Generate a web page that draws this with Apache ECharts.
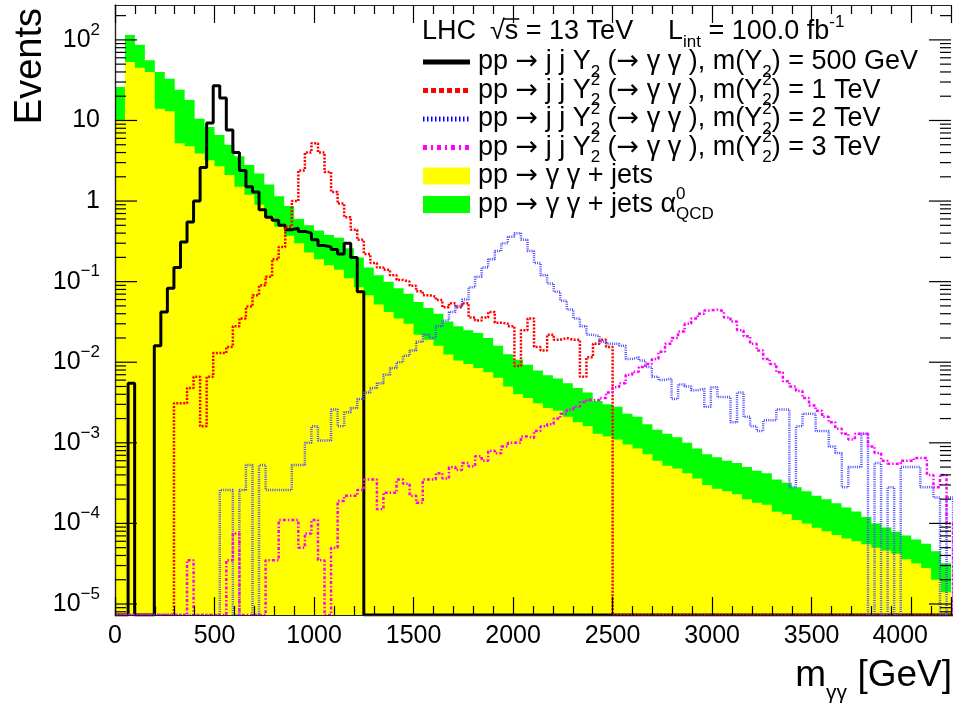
<!DOCTYPE html>
<html><head><meta charset="utf-8">
<script src="https://cdn.jsdelivr.net/npm/echarts@6/dist/echarts.min.js"></script>
<style>html,body{margin:0;padding:0;background:#fff}#c{width:956px;height:705px}</style>
</head><body><div id="c"></div>
<script>
// ---------------- data ----------------
const X_MIN = 0, X_MAX = 4200;
const Y_MIN = 7.3e-6, Y_MAX = 271;
const BG_BIN = 50;            // GeV, background histograms
const SIG_BIN = 1250 / 38;    // GeV, signal histograms
const xTickStep = 500;
const yDecades = [-5, -4, -3, -2, -1, 0, 1, 2];
const minorMultipliers = [2, 3, 4, 5, 6, 7, 8, 9];

// pp -> yy + jets alpha_QCD^0 (green)
const bkgJetsAlpha0 = [26,115,87,56,40,33,24,18,10.5,8.3,6.6,5.0,3.6,2.8,2.2,1.6,1.15,0.87,0.60,0.50,
0.43,0.38,0.35,0.26,0.20,0.15,0.12,0.10,0.083,0.071,0.056,0.047,0.040,0.032,0.028,0.025,0.023,0.020,0.016,0.0126,
0.0107,0.0093,0.0079,0.0069,0.0063,0.0055,0.0048,0.0042,0.0033,0.0030,0.0028,0.0023,0.0021,0.0017,0.00145,0.0013,0.00117,0.0010,0.00085,0.00072,
0.00066,0.00060,0.00056,0.00050,0.00045,0.00042,0.00035,0.00032,0.00028,0.00025,0.00022,0.00020,0.000178,0.000158,0.000141,0.00012,0.0001,0.000089,0.000079,0.000071,
0.000063,0.000056,0.000045,0.000032];
// pp -> yy + jets (yellow)
const bkgJets = [10,53,45,40,14,13,5.2,4.8,3.9,3.2,2.7,2.1,1.5,1.2,0.9,0.65,0.48,0.37,0.30,0.23,
0.19,0.16,0.14,0.11,0.085,0.068,0.052,0.042,0.035,0.030,0.022,0.019,0.016,0.0125,0.0105,0.0095,0.0085,0.0075,0.0064,0.0050,
0.0040,0.0036,0.0031,0.0027,0.0025,0.0021,0.0018,0.0016,0.0013,0.0012,0.0011,0.00095,0.00085,0.00072,0.0006,0.00052,0.00048,0.00042,0.00036,0.00030,
0.00027,0.00025,0.00023,0.00020,0.00018,0.00017,0.00014,0.00013,0.00011,0.0001,0.000088,0.00008,0.000072,0.000065,0.00006,0.000055,0.00005,0.000046,0.000042,0.000036,
0.000032,0.000028,0.000020,0.000014];
// signals, m(Y) = 500 GeV, 1, 2, 3 TeV (bins of SIG_BIN from 0; missing bins are empty)
const sig500 = [0,0,0.0055,0,0,0,0.016,0.042,0.083,0.15,0.31,0.55,1.0,2.6,9.3,27,19,7.6,4.0,2.4,
1.5,1.3,0.78,0.63,0.58,0.50,0.44,0.46,0.42,0.40,0.33,0.28,0.27,0.25,0.22,0.30,0.20,0.075];
const sig1000 = [0,0,0,0,0,0,0,0,0,0.0031,0.0031,0.0048,0.0066,0.0016,0.0066,0.013,0.013,0.0155,0.028,0.035,
0.049,0.068,0.09,0.115,0.19,0.27,0.48,1.0,2.4,4.0,5.2,4.0,2.3,1.3,0.93,0.63,0.44,0.33,0.22,0.17,
0.15,0.14,0.12,0.105,0.10,0.089,0.076,0.068,0.065,0.059,0.048,0.054,0.048,0.054,0.036,0.033,0.036,0.042,0.031,0.030,
0.028,0.009,0.025,0.035,0.0155,0.014,0.022,0.019,0.020,0.019,0.019,0.0066,0.0115,0.017,0.019,0.0155];
const sig2000 = [0,0,0,0,0,0,0,0,0,0,0,0,0,0,0,0,2.6e-4,2.6e-4,0,2.6e-4,
5.3e-4,0,5.3e-4,2.6e-4,2.6e-4,2.6e-4,2.6e-4,5.3e-4,5.3e-4,1.0e-3,1.6e-3,1.07e-3,1.07e-3,2.6e-3,1.6e-3,2.4e-3,2.7e-3,3.5e-3,4.2e-3,4.8e-3,
5.5e-3,7e-3,8.5e-3,0.010,0.012,0.014,0.018,0.022,0.020,0.028,0.033,0.042,0.050,0.060,0.085,0.115,0.15,0.19,0.24,0.30,
0.36,0.40,0.33,0.24,0.17,0.12,0.095,0.075,0.058,0.045,0.035,0.028,0.022,0.021,0.018,0.017,0.017,0.016,0.011,0.0115,
0.0105,0.0087,0.0066,0.006,0.0063,0.0035,0.0053,0.0050,0.0045,0.0047,0.0028,0.0049,0.0037,0.0037,0.0018,0.0042,0.0021,0.0016,0.0014,0.0019,
0.0019,0.0026,0.0026,0.00028,0.0016,0.0023,0.0023,0.0014,0.0014,0.0009,0.00075,0.00028,0.0005,0.0005,0.0013,0,0.00056,0,0.00028,0,
0.0005,0.0005,0.0005,0.00028,0.00028,0.00021,0,0.00021];
const sig3000 = [0,0,0,0,0,0,0,0,0,0,0,3.5e-5,0,0,0,0,0,3.5e-5,7.5e-5,0,
0,0,0,3.5e-5,3.5e-5,1.1e-4,1.1e-4,1.1e-4,5e-5,7.5e-5,1.1e-4,3.5e-5,0,5e-5,1.9e-4,2.2e-4,2.2e-4,2.6e-4,3.5e-4,3.5e-4,
1.5e-4,2.4e-4,2.4e-4,3.5e-4,3.1e-4,2.2e-4,1.8e-4,3.5e-4,3.5e-4,4.2e-4,3.6e-4,5.0e-4,4.6e-4,5.6e-4,5.1e-4,6.8e-4,6.0e-4,8.0e-4,7.4e-4,9.0e-4,
1.0e-3,1.0e-3,1.2e-3,1.15e-3,1.4e-3,1.6e-3,1.7e-3,2.0e-3,2.3e-3,2.6e-3,2.8e-3,3.2e-3,3.4e-3,3.4e-3,3.6e-3,4.2e-3,4.9e-3,5.5e-3,7.0e-3,7.6e-3,
8.7e-3,9.5e-3,0.011,0.0135,0.017,0.020,0.024,0.030,0.035,0.040,0.044,0.045,0.043,0.036,0.032,0.025,0.021,0.017,0.014,0.011,
0.0095,0.0075,0.0058,0.005,0.0044,0.0036,0.0029,0.0025,0.0021,0.0018,0.0015,0.0013,0.0011,0.0013,0.0013,0.0009,0.00075,0.0006,0.00055,0.00055,
0.0006,0.0006,0.00065,0.00065,0.0004,0.00028,0.0004,0.0001];

// ---------------- helpers ----------------
const FONT = '"Liberation Sans", Arial, Helvetica, sans-serif';
const ARROW_FONT = '"DejaVu Sans", sans-serif';
function bkgSteps(vals, w) {
  const p = vals.map((v, i) => [i * w, v]);
  p.push([vals.length * w, vals[vals.length - 1]]);
  return p;
}
function sigSteps(vals, w) {
  const p = vals.map((v, i) => [i * w, v > 0 ? v : Y_MIN]);
  p.push([vals.length * w, Y_MIN]);
  p.push([X_MAX + w, Y_MIN]);
  return p;
}
const yTickData = [];
yDecades.forEach(d => yTickData.push([X_MIN, Math.pow(10, d), 22]));
for (let d = -6; d <= 2; d++) minorMultipliers.forEach(m => {
  const v = m * Math.pow(10, d);
  if (v > Y_MIN && v < Y_MAX) yTickData.push([X_MIN, v, 11]);
});

const cv = document.createElement('canvas').getContext('2d');
function tw(s, size, fam) { cv.font = size + 'px ' + (fam || FONT); return cv.measureText(s).width; }
function txt(x, y, s, size, fam) {
  return { type: 'text', x: x, y: y, z: 100,
    style: { text: s, fill: '#000', font: size + 'px ' + (fam || FONT), align: 'left', verticalAlign: 'middle' } };
}
const LF = 27, SF = 17;
function row(x, y, pieces) {
  const out = []; let cx = x;
  pieces.forEach(p => {
    if (typeof p === 'string') {
      p.split(/(→)/).forEach(part => {
        if (!part) return;
        if (part === '→') { out.push(txt(cx, y, part, LF, ARROW_FONT)); cx += tw(part, LF, ARROW_FONT); }
        else { out.push(txt(cx, y, part, LF)); cx += tw(part, LF); }
      });
    } else {
      let w = 0;
      if (p.sup) { out.push(txt(cx, y - 10, p.sup, SF)); w = Math.max(w, tw(p.sup, SF)); }
      if (p.sub) { out.push(txt(cx, y + 10, p.sub, SF)); w = Math.max(w, tw(p.sub, SF)); }
      cx += w;
    }
  });
  return out;
}
const rowY = [32, 62, 90.5, 119, 147.5, 176, 204.5];
const TX = 478, SX0 = 423, SX1 = 470;
const legendEls = [];
legendEls.push(...row(422, rowY[0], ['LHC']));
const SQX = 490;
legendEls.push(...row(SQX, rowY[0], ['√s = 13 TeV']));
legendEls.push({ type: 'line', z: 100,
  shape: { x1: SQX + tw('√', LF) - 1, y1: 19, x2: SQX + tw('√s', LF) + 1, y2: 19 }, style: { stroke: '#000', lineWidth: 1.5 } });
legendEls.push(...row(668, rowY[0], ['L', {sub: 'int'}, ' = 100.0 fb', {sup: '-1'}]));
legendEls.push(...row(TX, rowY[1], ['pp → j j Y', {sub: '2'}, ' (→ γ γ ), m(Y', {sub: '2'}, ') = 500 GeV']));
legendEls.push(...row(TX, rowY[2], ['pp → j j Y', {sup: '2', sub: '2'}, ' (→ γ γ ), m(Y', {sup: '2', sub: '2'}, ') = 1 TeV']));
legendEls.push(...row(TX, rowY[3], ['pp → j j Y', {sup: '2', sub: '2'}, ' (→ γ γ ), m(Y', {sup: '2', sub: '2'}, ') = 2 TeV']));
legendEls.push(...row(TX, rowY[4], ['pp → j j Y', {sup: '2', sub: '2'}, ' (→ γ γ ), m(Y', {sup: '2', sub: '2'}, ') = 3 TeV']));
legendEls.push(...row(TX, rowY[5], ['pp → γ γ + jets']));
legendEls.push(...row(TX, rowY[6], ['pp → γ γ + jets α', {sup: '0', sub: 'QCD'}]));
function sample(y, color, dash, w) {
  return { type: 'line', z: 100, shape: { x1: SX0, y1: y, x2: SX1, y2: y },
    style: { stroke: color, lineWidth: w, lineDash: dash } };
}
legendEls.push(sample(rowY[1], '#000', null, 5));
legendEls.push(sample(rowY[2], '#ff0000', [5, 3], 5));
legendEls.push(sample(rowY[3], '#0000ff', [1.5, 2.5], 5));
legendEls.push(sample(rowY[4], '#ff00ff', [4, 4, 2, 4], 5));
legendEls.push({ type: 'rect', z: 100, shape: { x: SX0, y: rowY[5] - 8.5, width: SX1 - SX0, height: 17 }, style: { fill: '#ffff00' } });
legendEls.push({ type: 'rect', z: 100, shape: { x: SX0, y: rowY[6] - 8.5, width: SX1 - SX0, height: 17 }, style: { fill: '#00ff00' } });
// axis titles
legendEls.push({ type: 'text', x: 50, y: 8, rotation: Math.PI / 2, z: 100,
  style: { text: 'Events', fill: '#000', font: '38px ' + FONT, align: 'right', verticalAlign: 'bottom' } });
legendEls.push({ type: 'text', x: 952, y: 676, z: 100,
  style: { text: '{a|m}{s|γγ}{a| [GeV]}', align: 'right', verticalAlign: 'middle',
    rich: { a: { fontSize: 37, fontFamily: FONT, fill: '#000', lineHeight: 40, verticalAlign: 'middle' },
            s: { fontSize: 21, fontFamily: FONT, fill: '#000', lineHeight: 21, verticalAlign: 'bottom', padding: [0, 0, -8, 0] } } } });

// ---------------- chart ----------------
const chart = echarts.init(document.getElementById('c'), null, { renderer: 'canvas', width: 956, height: 705 });
const axLine = { show: true, lineStyle: { color: '#222', width: 1.2 } };
const xCommon = {
  type: 'value', min: X_MIN, max: X_MAX, interval: xTickStep, z: 10,
  axisLine: axLine, splitLine: { show: false },
  axisTick: { show: true, inside: true, length: 18, lineStyle: { color: '#000', width: 1.2 } },
  minorTick: { show: true, splitNumber: 5, length: 9, lineStyle: { color: '#000', width: 1.2 } }
};
chart.setOption({
  animation: false,
  backgroundColor: '#fff',
  grid: { left: 115, right: 5, top: 5, bottom: 90, containLabel: false, outerBoundsMode: 'none' },
  xAxis: [
    Object.assign({}, xCommon, { position: 'bottom',
      axisLabel: { show: true, color: '#000', fontFamily: FONT, fontSize: 25, margin: 9, showMaxLabel: false,
        formatter: v => v === 4000 ? '{l|4000}' : String(v),
        rich: { l: { fontSize: 25, fontFamily: FONT, color: '#000', padding: [0, 22, 0, 0] } } } }),
    Object.assign({}, xCommon, { position: 'top', axisLabel: { show: false } })
  ],
  yAxis: [
    { type: 'log', logBase: 10, min: Y_MIN, max: Y_MAX, position: 'left', z: 10,
      axisLine: axLine, splitLine: { show: false }, axisTick: { show: false }, minorTick: { show: false },
      axisLabel: { show: true, margin: 15, showMinLabel: false, showMaxLabel: false,
        formatter: v => {
          const l = Math.log10(v), e = Math.round(l);
          if (Math.abs(l - e) > 1e-6) return '';
          if (e === 0) return '{b|1}';
          if (e === 1) return '{b|10}';
          return '{b|10}{s|' + (e < 0 ? '\u2212' + (-e) : e) + '}';
        },
        rich: { b: { fontSize: 25, fontFamily: FONT, color: '#000', lineHeight: 37 },
                s: { fontSize: 17, fontFamily: FONT, color: '#000', lineHeight: 17, verticalAlign: 'top' } } } },
    { type: 'log', logBase: 10, min: Y_MIN, max: Y_MAX, position: 'right', z: 10,
      axisLine: axLine, splitLine: { show: false }, axisTick: { show: false }, minorTick: { show: false },
      axisLabel: { show: false } }
  ],
  graphic: legendEls,
  series: [
    { name: 'pp → γγ + jets α0QCD', type: 'line', step: 'end', data: bkgSteps(bkgJetsAlpha0, BG_BIN),
      symbol: 'none', lineStyle: { width: 0, opacity: 0 }, areaStyle: { color: '#00ff00', opacity: 1, origin: 'start' } },
    { name: 'pp → γγ + jets', type: 'line', step: 'end', data: bkgSteps(bkgJets, BG_BIN),
      symbol: 'none', lineStyle: { width: 0, opacity: 0 }, areaStyle: { color: '#ffff00', opacity: 1, origin: 'start' } },
    { name: 'm(Y)=500 GeV', type: 'line', step: 'end', data: sigSteps(sig500, SIG_BIN), symbol: 'none',
      lineStyle: { color: '#000', width: 3 } },
    { name: 'm(Y)=1 TeV', type: 'line', step: 'end', data: sigSteps(sig1000, SIG_BIN), symbol: 'none',
      lineStyle: { color: '#ff0000', width: 2.5, type: [2, 1.5] } },
    { name: 'm(Y)=2 TeV', type: 'line', step: 'end', data: sigSteps(sig2000, SIG_BIN), symbol: 'none',
      lineStyle: { color: '#5050ff', width: 2.5, type: [1, 1.2] } },
    { name: 'm(Y)=3 TeV', type: 'line', step: 'end', data: sigSteps(sig3000, SIG_BIN), symbol: 'none',
      lineStyle: { color: '#ff00ff', width: 2.5, type: [3, 2, 1.5, 2] } },
    { type: 'custom', coordinateSystem: 'cartesian2d', xAxisIndex: 0, yAxisIndex: 0, z: 20, silent: true, clip: false,
      data: yTickData,
      renderItem: (params, api) => {
        const v = api.value(1), len = api.value(2);
        const l = api.coord([X_MIN, v]), r = api.coord([X_MAX, v]);
        return { type: 'group', children: [
          { type: 'line', shape: { x1: l[0], y1: l[1], x2: l[0] + len, y2: l[1] }, style: { stroke: '#000', lineWidth: 1.2 } },
          { type: 'line', shape: { x1: r[0] - len, y1: r[1], x2: r[0], y2: r[1] }, style: { stroke: '#000', lineWidth: 1.2 } }
        ] };
      } }
  ]
});
</script>
</body></html>
